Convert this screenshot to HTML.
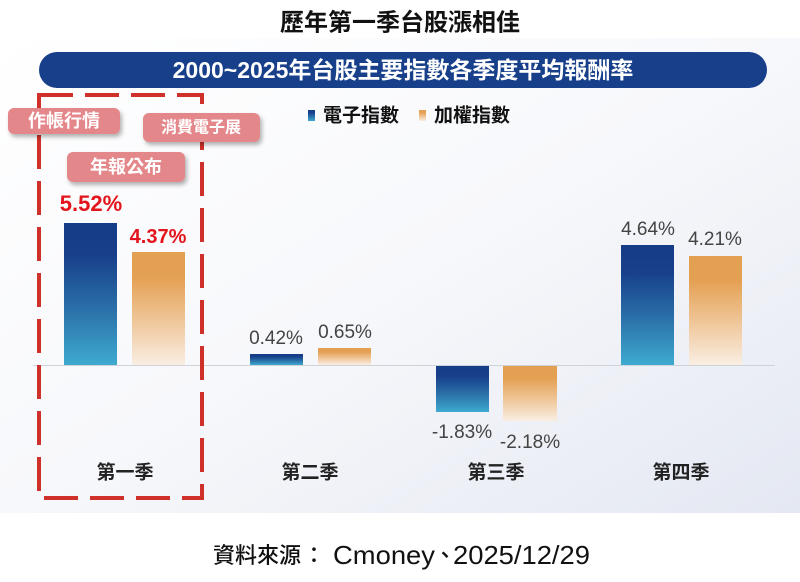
<!DOCTYPE html>
<html><head><meta charset="utf-8">
<style>
html,body{margin:0;padding:0;background:#fff;}
svg{display:block;}
text{font-family:"Liberation Sans","Noto Sans CJK TC",sans-serif;}
.cjk{font-family:"Liberation Sans","Noto Sans CJK TC",sans-serif;}
.nc{font-family:"Noto Sans CJK TC","Liberation Sans",sans-serif;}
</style></head>
<body>
<svg width="800" height="582" viewBox="0 0 800 582" xmlns="http://www.w3.org/2000/svg">
<defs>
  <linearGradient id="bg" x1="0" y1="0" x2="1" y2="1">
    <stop offset="0" stop-color="#ffffff"/>
    <stop offset="0.5" stop-color="#f7f8fb"/>
    <stop offset="1" stop-color="#e4e8f2"/>
  </linearGradient>
  <linearGradient id="gb" x1="0" y1="0" x2="0" y2="1">
    <stop offset="0" stop-color="#163d87"/>
    <stop offset="0.22" stop-color="#173f8a"/>
    <stop offset="0.6" stop-color="#2a6fa8"/>
    <stop offset="1" stop-color="#3eaad0"/>
  </linearGradient>
  <linearGradient id="go" x1="0" y1="0" x2="0" y2="1">
    <stop offset="0" stop-color="#e39f52"/>
    <stop offset="0.22" stop-color="#e4a052"/>
    <stop offset="0.6" stop-color="#efc597"/>
    <stop offset="1" stop-color="#f9eee3"/>
  </linearGradient>
  <filter id="sh" x="-20%" y="-30%" width="140%" height="170%">
    <feDropShadow dx="2" dy="3" stdDeviation="2" flood-color="#000" flood-opacity="0.3"/>
  </filter>
</defs>

<rect x="0" y="0" width="800" height="582" fill="#fff"/>
<rect x="0" y="38" width="800" height="475" fill="url(#bg)"/>

<!-- Title -->
<text x="400" y="20" text-anchor="middle" dominant-baseline="central" font-size="24" font-weight="bold" fill="#111" class="nc">歷年第一季台股漲相佳</text>

<!-- Banner -->
<rect x="39" y="52" width="728" height="36" rx="18" ry="18" fill="#173f8a"/>
<text x="403" y="70" text-anchor="middle" dominant-baseline="central" font-size="23" font-weight="bold" fill="#fff" class="cjk">2000~2025年台股主要指數各季度平均報酬率</text>

<!-- Legend -->
<rect x="308" y="110" width="7" height="11" fill="url(#gb)"/>
<text x="323" y="116" dominant-baseline="central" font-size="19" font-weight="bold" fill="#111" class="cjk">電子指數</text>
<rect x="419" y="110" width="7" height="11" fill="url(#go)"/>
<text x="434" y="116" dominant-baseline="central" font-size="19" font-weight="bold" fill="#111" class="cjk">加權指數</text>

<!-- zero line -->
<line x1="33" y1="365.5" x2="775" y2="365.5" stroke="#cfd2d8" stroke-width="1"/>

<!-- Bars -->
<rect x="64" y="223" width="53" height="142" fill="url(#gb)"/>
<rect x="132" y="252" width="53" height="113" fill="url(#go)"/>
<rect x="250" y="354" width="53" height="11" fill="url(#gb)"/>
<rect x="318" y="348" width="53" height="17" fill="url(#go)"/>
<rect x="436" y="366" width="53" height="46" fill="url(#gb)"/>
<rect x="503" y="366" width="54" height="55" fill="url(#go)"/>
<rect x="621" y="245" width="53" height="120" fill="url(#gb)"/>
<rect x="689" y="256" width="53" height="109" fill="url(#go)"/>

<!-- Value labels -->
<text x="91" y="211" text-anchor="middle" font-size="22" font-weight="bold" fill="#e3141b">5.52%</text>
<text x="158" y="243" text-anchor="middle" font-size="20" font-weight="bold" fill="#e3141b">4.37%</text>
<text x="276" y="344" text-anchor="middle" font-size="19" fill="#444">0.42%</text>
<text x="345" y="338" text-anchor="middle" font-size="19" fill="#444">0.65%</text>
<text x="462" y="438" text-anchor="middle" font-size="19" fill="#444">-1.83%</text>
<text x="530" y="448" text-anchor="middle" font-size="19" fill="#444">-2.18%</text>
<text x="648" y="235" text-anchor="middle" font-size="19" fill="#444">4.64%</text>
<text x="715" y="245" text-anchor="middle" font-size="19" fill="#444">4.21%</text>

<!-- Category labels -->
<text x="125" y="473" text-anchor="middle" dominant-baseline="central" font-size="19" font-weight="bold" fill="#222" class="cjk">第一季</text>
<text x="310" y="473" text-anchor="middle" dominant-baseline="central" font-size="19" font-weight="bold" fill="#222" class="cjk">第二季</text>
<text x="496" y="473" text-anchor="middle" dominant-baseline="central" font-size="19" font-weight="bold" fill="#222" class="cjk">第三季</text>
<text x="681" y="473" text-anchor="middle" dominant-baseline="central" font-size="19" font-weight="bold" fill="#222" class="cjk">第四季</text>

<!-- Dashed highlight box -->
<rect x="39" y="95" width="163" height="403" fill="none" stroke="#d0302a" stroke-width="4" stroke-dasharray="34 12"/>

<!-- Callouts -->
<g filter="url(#sh)">
  <rect x="8" y="108" width="112" height="26" rx="6" fill="#e4878b"/>
  <rect x="143" y="113" width="117" height="29" rx="6" fill="#e4878b"/>
  <rect x="67" y="152" width="118" height="30" rx="6" fill="#e4878b"/>
</g>
<text x="64" y="121" text-anchor="middle" dominant-baseline="central" font-size="18" font-weight="bold" fill="#fff" class="cjk">作帳行情</text>
<text x="201" y="128" text-anchor="middle" dominant-baseline="central" font-size="16" font-weight="bold" fill="#fff" class="cjk">消費電子展</text>
<text x="126" y="167" text-anchor="middle" dominant-baseline="central" font-size="18" font-weight="bold" fill="#fff" class="cjk">年報公布</text>

<!-- Footer -->
<text y="563" fill="#111">
  <tspan x="213" font-size="22" font-weight="500" style="font-family:'Noto Sans CJK TC',sans-serif">資料來源</tspan>
  <tspan x="303" font-size="22" font-weight="500" style="font-family:'Noto Sans CJK TC',sans-serif">：</tspan>
  <tspan x="333" y="564" font-size="26" font-weight="normal" style="font-family:'Liberation Sans',sans-serif" textLength="102" lengthAdjust="spacingAndGlyphs">Cmoney</tspan>
</text>
<text y="563" fill="#111">
  <tspan x="434" font-size="22" font-weight="500" style="font-family:'Noto Sans CJK TC',sans-serif">、</tspan>
</text>
<text x="453" y="564" font-size="26" fill="#111" style="font-family:'Liberation Sans',sans-serif" textLength="137" lengthAdjust="spacingAndGlyphs">2025/12/29</text>
</svg>
</body></html>
